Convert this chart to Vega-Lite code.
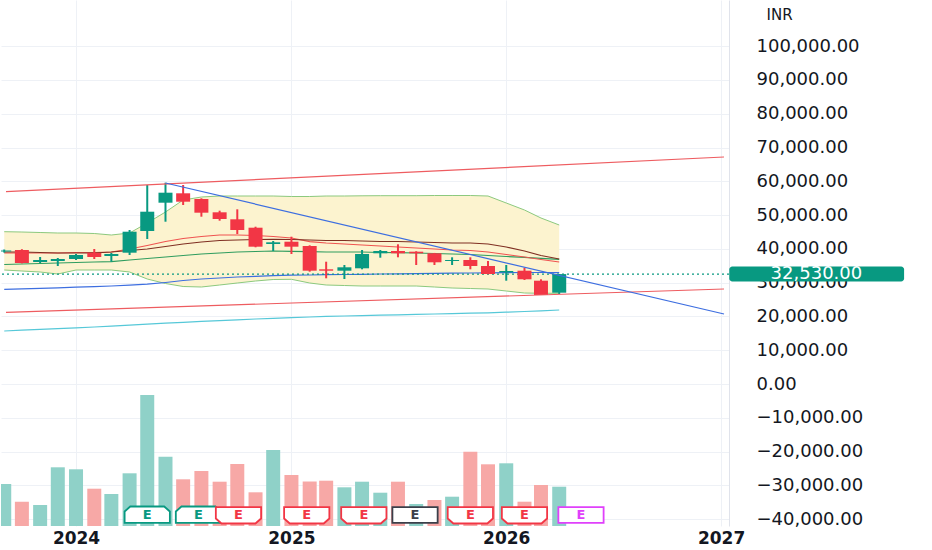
{
  "$schema": "https://vega.github.io/schema/vega-lite/v6.json",
  "description": "Monthly candlestick chart in INR with Bollinger bands, moving averages, trend lines and volume.",
  "width": 728,
  "height": 526,
  "padding": 0,
  "background": "white",
  "config": {"font": "DejaVu Sans", "view": {"stroke": null}},
  "datasets": {
    "candles": [
      {"date": "2023-09-01", "open": 39200, "high": 39800, "low": 38900, "close": 39500, "volume": 420000, "vol_dir": "up", "bb_upper": 45081, "bb_lower": 33744, "ma_brown": 39072, "ma_red": 38776, "ma_green": 35372, "ma_blue": 28031, "ma_cyan": 15688},
      {"date": "2023-10-01", "open": 39664, "high": 39900, "low": 35700, "close": 35816, "volume": 243000, "vol_dir": "down", "bb_upper": 44992, "bb_lower": 33448, "ma_brown": 39072, "ma_red": 38776, "ma_green": 35520, "ma_blue": 28179, "ma_cyan": 15925},
      {"date": "2023-11-01", "open": 36112, "high": 37592, "low": 35816, "close": 36704, "volume": 210000, "vol_dir": "up", "bb_upper": 44844, "bb_lower": 33152, "ma_brown": 38924, "ma_red": 38776, "ma_green": 35668, "ma_blue": 28327, "ma_cyan": 16162},
      {"date": "2023-12-01", "open": 36408, "high": 37300, "low": 34928, "close": 37000, "volume": 587000, "vol_dir": "up", "bb_upper": 44696, "bb_lower": 32560, "ma_brown": 38776, "ma_red": 38776, "ma_green": 35816, "ma_blue": 28475, "ma_cyan": 16398},
      {"date": "2024-01-01", "open": 37000, "high": 38480, "low": 36704, "close": 38184, "volume": 567000, "vol_dir": "up", "bb_upper": 44696, "bb_lower": 33744, "ma_brown": 38776, "ma_red": 38924, "ma_green": 35964, "ma_blue": 28653, "ma_cyan": 16635},
      {"date": "2024-02-01", "open": 38776, "high": 39960, "low": 37000, "close": 37592, "volume": 373000, "vol_dir": "down", "bb_upper": 44548, "bb_lower": 33744, "ma_brown": 38776, "ma_red": 38924, "ma_green": 36112, "ma_blue": 28830, "ma_cyan": 16872},
      {"date": "2024-03-01", "open": 37888, "high": 38776, "low": 36200, "close": 38480, "volume": 320000, "vol_dir": "up", "bb_upper": 44104, "bb_lower": 33744, "ma_brown": 39072, "ma_red": 39072, "ma_green": 36201, "ma_blue": 29008, "ma_cyan": 17109},
      {"date": "2024-04-01", "open": 38865, "high": 45584, "low": 38184, "close": 45080, "volume": 527000, "vol_dir": "up", "bb_upper": 44696, "bb_lower": 33152, "ma_brown": 39516, "ma_red": 39960, "ma_green": 36704, "ma_blue": 29245, "ma_cyan": 17405},
      {"date": "2024-05-01", "open": 45288, "high": 58904, "low": 42920, "close": 51000, "volume": 1310000, "vol_dir": "up", "bb_upper": 47656, "bb_lower": 31080, "ma_brown": 39960, "ma_red": 40996, "ma_green": 37148, "ma_blue": 29541, "ma_cyan": 17701},
      {"date": "2024-06-01", "open": 53665, "high": 59585, "low": 48040, "close": 56625, "volume": 693000, "vol_dir": "up", "bb_upper": 50912, "bb_lower": 29748, "ma_brown": 40700, "ma_red": 42180, "ma_green": 37592, "ma_blue": 30044, "ma_cyan": 17997},
      {"date": "2024-07-01", "open": 56447, "high": 58904, "low": 52984, "close": 53961, "volume": 467000, "vol_dir": "down", "bb_upper": 54464, "bb_lower": 28860, "ma_brown": 41440, "ma_red": 43068, "ma_green": 38036, "ma_blue": 30636, "ma_cyan": 18263},
      {"date": "2024-08-01", "open": 54760, "high": 54967, "low": 49521, "close": 50705, "volume": 550000, "vol_dir": "down", "bb_upper": 55352, "bb_lower": 28712, "ma_brown": 42032, "ma_red": 43660, "ma_green": 38480, "ma_blue": 31080, "ma_cyan": 18530},
      {"date": "2024-09-01", "open": 50823, "high": 51297, "low": 48337, "close": 48840, "volume": 443000, "vol_dir": "down", "bb_upper": 55648, "bb_lower": 29304, "ma_brown": 42476, "ma_red": 44104, "ma_green": 38776, "ma_blue": 31376, "ma_cyan": 18766},
      {"date": "2024-10-01", "open": 48751, "high": 51711, "low": 44400, "close": 45584, "volume": 620000, "vol_dir": "down", "bb_upper": 55648, "bb_lower": 29896, "ma_brown": 42624, "ma_red": 44104, "ma_green": 39072, "ma_blue": 31672, "ma_cyan": 19003},
      {"date": "2024-11-01", "open": 46265, "high": 46561, "low": 40463, "close": 40641, "volume": 337000, "vol_dir": "down", "bb_upper": 55648, "bb_lower": 30488, "ma_brown": 42772, "ma_red": 43956, "ma_green": 39220, "ma_blue": 31879, "ma_cyan": 19240},
      {"date": "2024-12-01", "open": 41440, "high": 42328, "low": 39368, "close": 41943, "volume": 760000, "vol_dir": "up", "bb_upper": 55648, "bb_lower": 30932, "ma_brown": 42831, "ma_red": 43660, "ma_green": 39368, "ma_blue": 32057, "ma_cyan": 19447},
      {"date": "2025-01-01", "open": 42121, "high": 43601, "low": 38480, "close": 40641, "volume": 510000, "vol_dir": "down", "bb_upper": 55500, "bb_lower": 30991, "ma_brown": 42772, "ma_red": 43216, "ma_green": 39279, "ma_blue": 32205, "ma_cyan": 19654},
      {"date": "2025-02-01", "open": 40848, "high": 41055, "low": 33241, "close": 33537, "volume": 445000, "vol_dir": "down", "bb_upper": 55500, "bb_lower": 29896, "ma_brown": 42624, "ma_red": 42121, "ma_green": 39161, "ma_blue": 32264, "ma_cyan": 19832},
      {"date": "2025-03-01", "open": 33951, "high": 36200, "low": 31287, "close": 33537, "volume": 453000, "vol_dir": "down", "bb_upper": 55648, "bb_lower": 29304, "ma_brown": 42476, "ma_red": 41736, "ma_green": 39072, "ma_blue": 32353, "ma_cyan": 20010},
      {"date": "2025-04-01", "open": 33537, "high": 35224, "low": 31080, "close": 34543, "volume": 387000, "vol_dir": "up", "bb_upper": 55648, "bb_lower": 29156, "ma_brown": 42476, "ma_red": 41440, "ma_green": 39072, "ma_blue": 32412, "ma_cyan": 20128},
      {"date": "2025-05-01", "open": 34247, "high": 39664, "low": 33951, "close": 38480, "volume": 443000, "vol_dir": "up", "bb_upper": 55707, "bb_lower": 29008, "ma_brown": 42328, "ma_red": 41144, "ma_green": 39072, "ma_blue": 32471, "ma_cyan": 20246},
      {"date": "2025-06-01", "open": 38687, "high": 39664, "low": 37385, "close": 39368, "volume": 333000, "vol_dir": "up", "bb_upper": 55737, "bb_lower": 29008, "ma_brown": 42180, "ma_red": 40848, "ma_green": 38924, "ma_blue": 32560, "ma_cyan": 20365},
      {"date": "2025-07-01", "open": 39368, "high": 41351, "low": 37503, "close": 38687, "volume": 443000, "vol_dir": "down", "bb_upper": 55737, "bb_lower": 29008, "ma_brown": 42180, "ma_red": 40552, "ma_green": 38865, "ma_blue": 32619, "ma_cyan": 20483},
      {"date": "2025-08-01", "open": 39161, "high": 39300, "low": 35224, "close": 38687, "volume": 220000, "vol_dir": "up", "bb_upper": 55737, "bb_lower": 29008, "ma_brown": 42032, "ma_red": 40256, "ma_green": 38776, "ma_blue": 32678, "ma_cyan": 20602},
      {"date": "2025-09-01", "open": 38687, "high": 38800, "low": 35224, "close": 36023, "volume": 260000, "vol_dir": "down", "bb_upper": 55796, "bb_lower": 28712, "ma_brown": 41884, "ma_red": 39960, "ma_green": 38628, "ma_blue": 32738, "ma_cyan": 20720},
      {"date": "2025-10-01", "open": 36408, "high": 37503, "low": 35224, "close": 36704, "volume": 293000, "vol_dir": "up", "bb_upper": 55796, "bb_lower": 28416, "ma_brown": 41736, "ma_red": 39664, "ma_green": 38480, "ma_blue": 32797, "ma_cyan": 20838},
      {"date": "2025-11-01", "open": 36704, "high": 37503, "low": 33951, "close": 34928, "volume": 743000, "vol_dir": "down", "bb_upper": 55796, "bb_lower": 28268, "ma_brown": 41736, "ma_red": 39516, "ma_green": 38332, "ma_blue": 32856, "ma_cyan": 20957},
      {"date": "2025-12-01", "open": 34928, "high": 36408, "low": 32470, "close": 32560, "volume": 617000, "vol_dir": "down", "bb_upper": 55648, "bb_lower": 28120, "ma_brown": 41440, "ma_red": 39072, "ma_green": 38036, "ma_blue": 32915, "ma_cyan": 21075},
      {"date": "2026-01-01", "open": 33063, "high": 35224, "low": 30577, "close": 33448, "volume": 627000, "vol_dir": "up", "bb_upper": 53576, "bb_lower": 27528, "ma_brown": 40552, "ma_red": 38332, "ma_green": 37740, "ma_blue": 32974, "ma_cyan": 21253},
      {"date": "2026-02-01", "open": 33537, "high": 34425, "low": 30784, "close": 30991, "volume": 243000, "vol_dir": "down", "bb_upper": 51504, "bb_lower": 26936, "ma_brown": 39368, "ma_red": 37592, "ma_green": 37503, "ma_blue": 33004, "ma_cyan": 21460},
      {"date": "2026-03-01", "open": 30577, "high": 30991, "low": 26344, "close": 26344, "volume": 410000, "vol_dir": "down", "bb_upper": 49136, "bb_lower": 26847, "ma_brown": 38036, "ma_red": 36852, "ma_green": 37207, "ma_blue": 33004, "ma_cyan": 21667},
      {"date": "2026-04-01", "open": 27025, "high": 32560, "low": 26640, "close": 32530, "volume": 393000, "vol_dir": "up", "bb_upper": 47064, "bb_lower": 26847, "ma_brown": 37000, "ma_red": 36112, "ma_green": 36911, "ma_blue": 32945, "ma_cyan": 21904}
    ],
    "drawings": [
      {"line": "upper_channel", "date": "2023-09-04", "price": 56921},
      {"line": "upper_channel", "date": "2027-01-06", "price": 67192},
      {"line": "lower_channel", "date": "2023-09-04", "price": 21223},
      {"line": "lower_channel", "date": "2027-01-06", "price": 28120},
      {"line": "trend", "date": "2024-06-01", "price": 59496},
      {"line": "trend", "date": "2027-01-06", "price": 20720}
    ],
    "earnings": [
      {"date": "2024-05-01", "kind": "beat"},
      {"date": "2024-07-27", "kind": "beat"},
      {"date": "2024-10-03", "kind": "miss"},
      {"date": "2025-01-27", "kind": "miss"},
      {"date": "2025-05-04", "kind": "miss"},
      {"date": "2025-07-30", "kind": "inline"},
      {"date": "2025-11-01", "kind": "miss"},
      {"date": "2026-02-01", "kind": "miss"},
      {"date": "2026-05-08", "kind": "upcoming"}
    ],
    "last_price": [{"price": 32530}]
  },
  "layer": [
    {
      "data": {"name": "candles"},
      "mark": {"type": "bar", "width": 14, "clip": true},
      "encoding": {
        "x": {
          "field": "date",
          "type": "temporal",
          "title": null,
          "scale": {
            "type": "utc",
            "domain": [
              {"year": 2023, "month": 9, "date": 4, "utc": true},
              {"year": 2027, "month": 1, "date": 6, "utc": true}
            ]
          },
          "axis": {
            "values": [
              {"year": 2024, "month": 1, "date": 1, "utc": true},
              {"year": 2025, "month": 1, "date": 1, "utc": true},
              {"year": 2026, "month": 1, "date": 1, "utc": true},
              {"year": 2027, "month": 1, "date": 1, "utc": true}
            ],
            "format": "%Y",
            "formatType": "utc",
            "labelFontSize": 17,
            "labelFontWeight": "bold",
            "labelColor": "#131722",
            "labelPadding": 4,
            "labelFlush": false,
            "labelOverlap": false,
            "ticks": false,
            "domain": false,
            "grid": true,
            "gridColor": "#eef1f6"
          }
        },
        "y": {"field": "volume", "type": "quantitative", "scale": {"domain": [0, 5260000]}, "axis": null},
        "color": {"condition": {"test": "datum.vol_dir === 'up'", "value": "#8fd1c8"}, "value": "#f7a8a6"}
      }
    },
    {
      "data": {"name": "earnings"},
      "mark": {"type": "point", "size": 800, "strokeWidth": 1.8, "fill": "white", "fillOpacity": 1, "opacity": 1, "clip": true},
      "encoding": {
        "x": {"field": "date", "type": "temporal", "title": null},
        "y": {"datum": 110000, "type": "quantitative", "scale": {"domain": [0, 5260000]}, "axis": null},
        "shape": {
          "field": "kind",
          "scale": {
            "domain": ["beat", "miss", "inline", "upcoming"],
            "range": [
              "M-1.6,0.55L1.6,0.55L1.6,-0.25L1.2,-0.6L-1.2,-0.6L-1.6,-0.25Z",
              "M-1.6,-0.55L1.6,-0.55L1.6,0.25L1.2,0.6L-1.2,0.6L-1.6,0.25Z",
              "M-1.6,-0.55L1.6,-0.55L1.6,0.55L-1.6,0.55Z",
              "M-1.6,-0.55L1.6,-0.55L1.6,0.55L-1.6,0.55Z"
            ]
          },
          "legend": null
        },
        "stroke": {
          "field": "kind",
          "scale": {"domain": ["beat", "miss", "inline", "upcoming"], "range": ["#089981", "#f23645", "#3b3f4a", "#e040fb"]},
          "legend": null
        }
      }
    },
    {
      "data": {"name": "earnings"},
      "mark": {"type": "text", "fontSize": 13, "fontWeight": "bold", "clip": true},
      "encoding": {
        "x": {"field": "date", "type": "temporal", "title": null},
        "y": {"datum": 110000, "type": "quantitative", "scale": {"domain": [0, 5260000]}, "axis": null},
        "text": {"value": "E"},
        "color": {
          "field": "kind",
          "scale": {"domain": ["beat", "miss", "inline", "upcoming"], "range": ["#089981", "#f23645", "#3b3f4a", "#e040fb"]},
          "legend": null
        }
      }
    },
    {
      "data": {"name": "candles"},
      "mark": {"type": "area", "color": "#fcf3cf", "clip": true},
      "encoding": {
        "x": {"field": "date", "type": "temporal", "title": null},
        "y": {
          "field": "bb_lower",
          "type": "quantitative",
          "scale": {"domain": [-42032, 113664], "nice": false, "zero": false},
          "axis": {
            "orient": "right",
            "values": [-40000, -30000, -20000, -10000, 0, 10000, 20000, 30000, 40000, 50000, 60000, 70000, 80000, 90000, 100000],
            "format": ",.2f",
            "labelFontSize": 18,
            "labelColor": "#131722",
            "labelPadding": 27,
            "labelOverlap": false,
            "labelBound": false,
            "labelSeparation": 0,
            "ticks": false,
            "domain": true,
            "domainColor": "#e0e3eb",
            "grid": true,
            "gridColor": "#eef1f6",
            "title": "INR",
            "titleAngle": 0,
            "titleAlign": "left",
            "titleBaseline": "middle",
            "titleX": 37,
            "titleY": 14,
            "titleFontSize": 15,
            "titleFontWeight": "normal",
            "titleColor": "#131722"
          }
        },
        "y2": {"field": "bb_upper"}
      }
    },
    {"data": {"name": "candles"}, "mark": {"type": "line", "color": "#8cc97e", "strokeWidth": 1, "clip": true}, "encoding": {"x": {"field": "date", "type": "temporal", "title": null}, "y": {"field": "bb_upper", "type": "quantitative", "scale": {"domain": [-42032, 113664], "nice": false, "zero": false}, "axis": null}}},
    {"data": {"name": "candles"}, "mark": {"type": "line", "color": "#8cc97e", "strokeWidth": 1, "clip": true}, "encoding": {"x": {"field": "date", "type": "temporal", "title": null}, "y": {"field": "bb_lower", "type": "quantitative", "scale": {"domain": [-42032, 113664], "nice": false, "zero": false}, "axis": null}}},
    {"data": {"name": "candles"}, "mark": {"type": "line", "color": "#56c8d8", "strokeWidth": 1.2, "clip": true}, "encoding": {"x": {"field": "date", "type": "temporal", "title": null}, "y": {"field": "ma_cyan", "type": "quantitative", "scale": {"domain": [-42032, 113664], "nice": false, "zero": false}, "axis": null}}},
    {"data": {"name": "candles"}, "mark": {"type": "line", "color": "#3d6ee0", "strokeWidth": 1.2, "clip": true}, "encoding": {"x": {"field": "date", "type": "temporal", "title": null}, "y": {"field": "ma_blue", "type": "quantitative", "scale": {"domain": [-42032, 113664], "nice": false, "zero": false}, "axis": null}}},
    {"data": {"name": "candles"}, "mark": {"type": "line", "color": "#2f9d5f", "strokeWidth": 1.2, "clip": true}, "encoding": {"x": {"field": "date", "type": "temporal", "title": null}, "y": {"field": "ma_green", "type": "quantitative", "scale": {"domain": [-42032, 113664], "nice": false, "zero": false}, "axis": null}}},
    {"data": {"name": "candles"}, "mark": {"type": "line", "color": "#ef5350", "strokeWidth": 1.2, "clip": true}, "encoding": {"x": {"field": "date", "type": "temporal", "title": null}, "y": {"field": "ma_red", "type": "quantitative", "scale": {"domain": [-42032, 113664], "nice": false, "zero": false}, "axis": null}}},
    {"data": {"name": "candles"}, "mark": {"type": "line", "color": "#7f2f22", "strokeWidth": 1.2, "clip": true}, "encoding": {"x": {"field": "date", "type": "temporal", "title": null}, "y": {"field": "ma_brown", "type": "quantitative", "scale": {"domain": [-42032, 113664], "nice": false, "zero": false}, "axis": null}}},
    {
      "data": {"name": "last_price"},
      "mark": {"type": "rule", "color": "#089981", "strokeWidth": 1.2, "strokeDash": [2, 3]},
      "encoding": {
        "y": {"field": "price", "type": "quantitative", "scale": {"domain": [-42032, 113664], "nice": false, "zero": false}, "axis": null}
      }
    },
    {
      "data": {"name": "candles"},
      "mark": {"type": "rule", "strokeWidth": 2, "clip": true},
      "encoding": {
        "x": {"field": "date", "type": "temporal", "title": null},
        "y": {"field": "low", "type": "quantitative", "scale": {"domain": [-42032, 113664], "nice": false, "zero": false}, "axis": null},
        "y2": {"field": "high"},
        "color": {"condition": {"test": "datum.close >= datum.open", "value": "#089981"}, "value": "#f23645"}
      }
    },
    {
      "data": {"name": "candles"},
      "mark": {"type": "bar", "width": 14, "clip": true},
      "encoding": {
        "x": {"field": "date", "type": "temporal", "title": null},
        "y": {"field": "open", "type": "quantitative", "scale": {"domain": [-42032, 113664], "nice": false, "zero": false}, "axis": null},
        "y2": {"field": "close"},
        "color": {"condition": {"test": "datum.close >= datum.open", "value": "#089981"}, "value": "#f23645"}
      }
    },
    {
      "data": {"name": "drawings"},
      "transform": [{"filter": "datum.line !== 'trend'"}],
      "mark": {"type": "line", "color": "#ee5c60", "strokeWidth": 1.2, "clip": true},
      "encoding": {
        "x": {"field": "date", "type": "temporal", "title": null},
        "y": {"field": "price", "type": "quantitative", "scale": {"domain": [-42032, 113664], "nice": false, "zero": false}, "axis": null},
        "detail": {"field": "line"}
      }
    },
    {
      "data": {"name": "drawings"},
      "transform": [{"filter": "datum.line === 'trend'"}],
      "mark": {"type": "line", "color": "#3d6ee0", "strokeWidth": 1.2, "clip": true},
      "encoding": {
        "x": {"field": "date", "type": "temporal", "title": null},
        "y": {"field": "price", "type": "quantitative", "scale": {"domain": [-42032, 113664], "nice": false, "zero": false}, "axis": null}
      }
    },
    {
      "data": {"name": "last_price"},
      "mark": {"type": "rect", "color": "#089981", "cornerRadius": 3, "yOffset": -7.5, "y2Offset": 7.5},
      "encoding": {
        "x": {"datum": {"year": 2027, "month": 1, "date": 15, "utc": true}, "type": "temporal"},
        "x2": {"datum": {"year": 2027, "month": 11, "date": 8, "utc": true}},
        "y": {"field": "price", "type": "quantitative", "scale": {"domain": [-42032, 113664], "nice": false, "zero": false}, "axis": null},
        "y2": {"field": "price"}
      }
    },
    {
      "data": {"name": "last_price"},
      "mark": {"type": "text", "color": "white", "fontSize": 18, "align": "center", "baseline": "middle"},
      "encoding": {
        "x": {"datum": {"year": 2027, "month": 6, "date": 12, "utc": true}, "type": "temporal"},
        "y": {"field": "price", "type": "quantitative", "scale": {"domain": [-42032, 113664], "nice": false, "zero": false}, "axis": null},
        "text": {"field": "price", "type": "quantitative", "format": ",.2f"}
      }
    }
  ],
  "resolve": {"scale": {"y": "independent"}}
}
